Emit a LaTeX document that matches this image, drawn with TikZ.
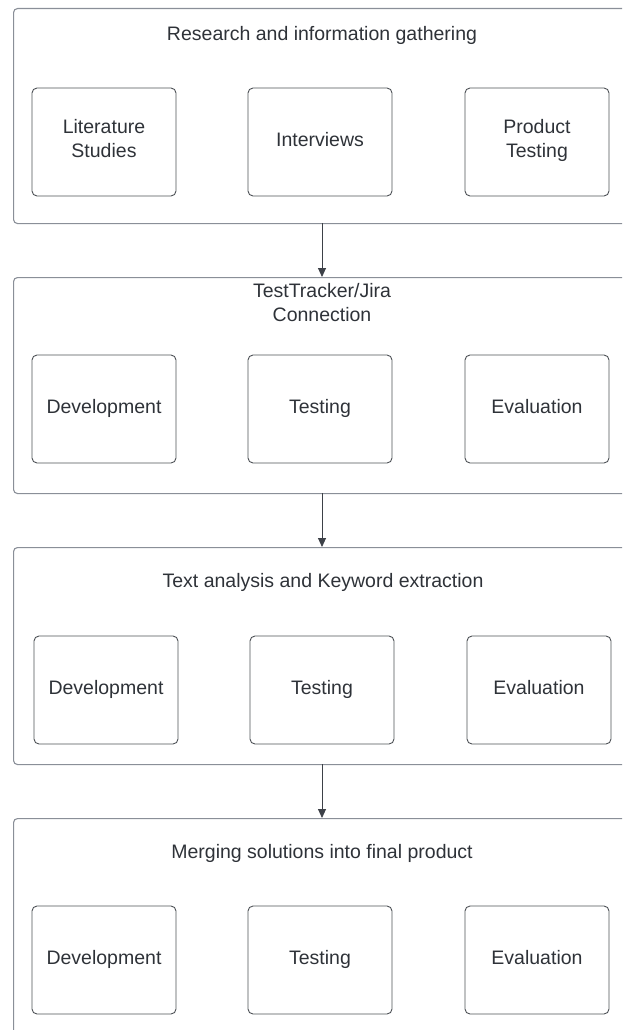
\documentclass[tikz,border=0pt]{standalone}
\usepackage{fontspec}
\setmainfont{Liberation Sans}
\usetikzlibrary{arrows.meta}
\definecolor{bordergray}{HTML}{8A8F98}
\definecolor{txt}{HTML}{2E3238}
\definecolor{arr}{HTML}{3D4148}
\tikzset{
  outerbox/.style={draw=bordergray, line width=1.1pt, rounded corners=4pt},
  inner/.style={draw=txt!85, line width=0.9pt, rounded corners=5pt, minimum width=144pt, minimum height=108pt, inner sep=0pt, font=\fontsize{19.5}{24}\selectfont, text=txt, align=center, execute at begin node={\strut}, execute at end node={\strut}},
  title/.style={font=\fontsize{19.5}{24}\selectfont, text=txt, align=center},
  conn/.style={draw=arr, line width=0.9pt, -{Triangle[length=9pt,width=8pt]}}
}
\begin{document}
\begin{tikzpicture}[x=1pt,y=-1pt]
\useasboundingbox (0,0) rectangle (622,1030);
\clip (0,0) rectangle (622,1030);
% outer boxes
\node[outerbox, anchor=north west, minimum width=640pt, minimum height=215pt, inner sep=0pt] (b1) at (13,8) {};
\node[outerbox, anchor=north west, minimum width=640pt, minimum height=216pt, inner sep=0pt] (b2) at (13,277) {};
\node[outerbox, anchor=north west, minimum width=640pt, minimum height=217pt, inner sep=0pt] (b3) at (13,547) {};
\node[outerbox, anchor=north west, minimum width=640pt, minimum height=240pt, inner sep=0pt] (b4) at (13,818) {};
% titles
\node[title] (t1) at (322,35) {Research and information gathering};
\node[title] (t2) at (322,303) {TestTracker/Jira\\Connection};
\node[title] (t3) at (323,582) {Text analysis and Keyword extraction};
\node[title] (t4) at (322,853) {Merging solutions into final product};
% row 1
\node[inner] (a1) at (104,142) {Literature\\Studies};
\node[inner] (a2) at (320,142) {Interviews};
\node[inner] (a3) at (537,142) {Product\\Testing};
% row 2
\node[inner] (c1) at (104,409) {Development};
\node[inner] (c2) at (320,409) {Testing};
\node[inner] (c3) at (537,409) {Evaluation};
% row 3
\node[inner] (d1) at (106,690) {Development};
\node[inner] (d2) at (322,690) {Testing};
\node[inner] (d3) at (539,690) {Evaluation};
% row 4
\node[inner] (e1) at (104,960) {Development};
\node[inner] (e2) at (320,960) {Testing};
\node[inner] (e3) at (537,960) {Evaluation};
% connectors
\coordinate (s1) at (322,223);
\coordinate (s2) at (322,493);
\coordinate (s3) at (322,764);
\draw[conn] (s1) -- (b2.north -| s1);
\draw[conn] (s2) -- (b3.north -| s2);
\draw[conn] (s3) -- (b4.north -| s3);
\end{tikzpicture}
\end{document}
